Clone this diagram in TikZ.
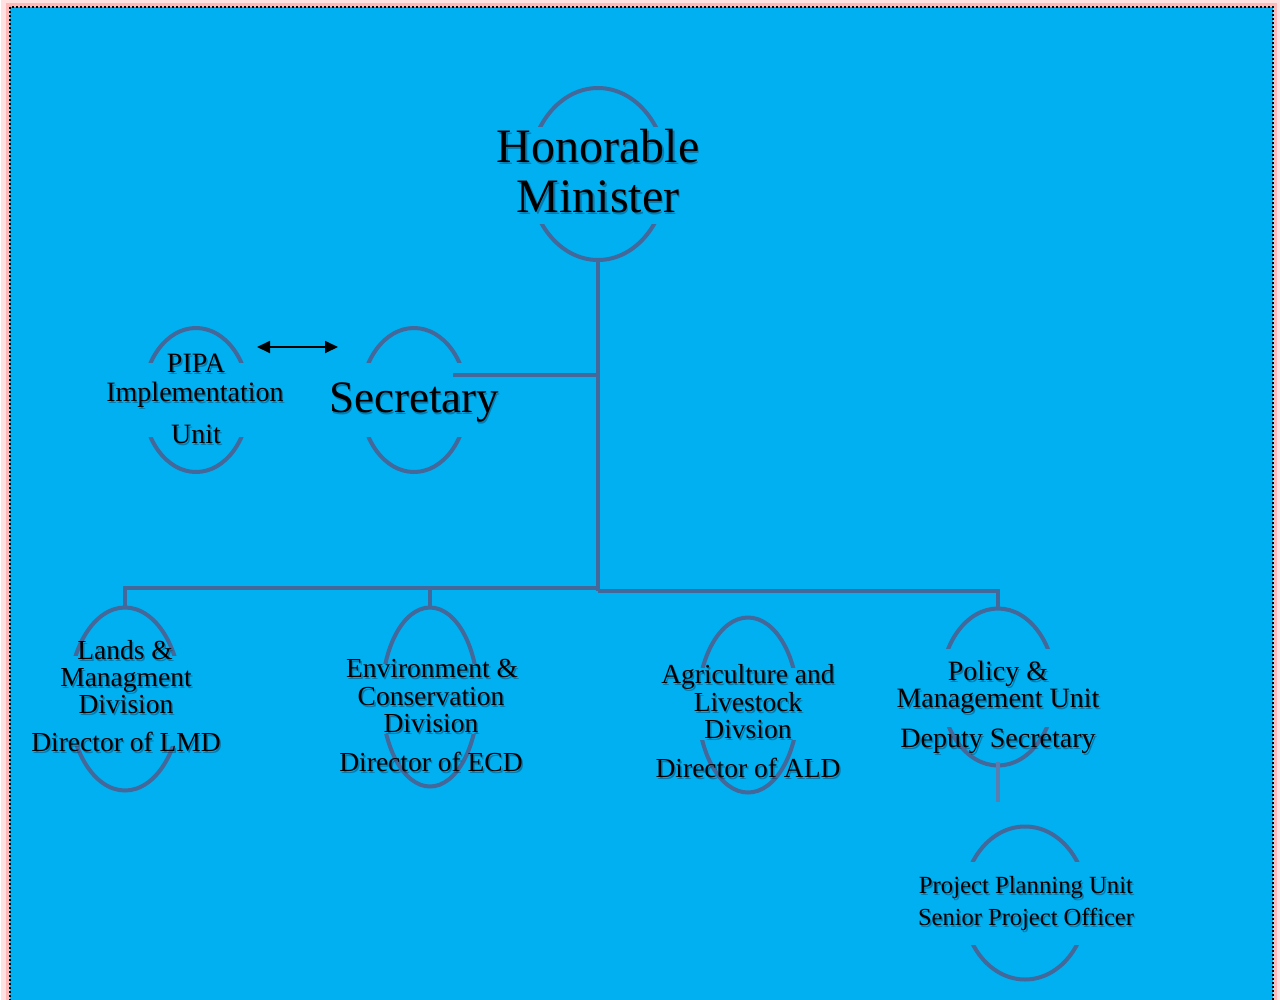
\documentclass[tikz,border=0pt]{standalone}
\usepackage{fontspec}
\setmainfont{Liberation Serif}
\usetikzlibrary{shapes.geometric,arrows.meta}
\definecolor{bgblue}{RGB}{0,176,240}
\definecolor{ringcol}{RGB}{68,104,154}
\definecolor{linkpale}{RGB}{90,125,175}
\definecolor{glowA}{RGB}{255,225,225}
\definecolor{glowB}{RGB}{255,185,185}
\definecolor{shcol}{RGB}{15,45,80}
\tikzset{
  ring/.style={ellipse,draw=ringcol,line width=4pt,inner sep=0pt},
  band/.style={fill=bgblue,draw=none},
  link/.style={draw=ringcol,line width=4pt},
  txt/.style={anchor=base,inner sep=0pt,text=black},
  txtsh/.style={anchor=base,inner sep=0pt,text=shcol,opacity=0.4},
  dblarrow/.style={draw=black,line width=1.8pt,{Triangle[length=13pt,width=12pt]}-{Triangle[length=13pt,width=12pt]}},
}
% name, x, baseline y, font size, text
\newcommand\shtxt[5]{%
  \node[txtsh] (#1s) at (#2+1.5,#3+2.5) {\fontsize{#4}{#4}\selectfont #5};
  \node[txt] (#1) at (#2,#3) {\fontsize{#4}{#4}\selectfont #5};
}
\begin{document}
\begin{tikzpicture}[x=1pt,y=-1pt]
\useasboundingbox (0,0) rectangle (1280,999);
% page background
\fill[white] (0,0) rectangle (1280,999);
\draw[glowA,line width=18pt] (10,7) rectangle (1273,1020);
\draw[glowB,line width=8pt] (10,7) rectangle (1273,1020);
\fill[bgblue] (10,7) rectangle (1273,1020);
\draw[black,line width=2pt,dash pattern=on 2pt off 2pt] (10,7) rectangle (1273,1020);

% ellipses
\node[ring,minimum width=138pt,minimum height=172pt] (min) at (598,174) {};
\node[ring,minimum width=106pt,minimum height=144pt] (sec) at (414,400) {};
\node[ring,minimum width=106pt,minimum height=144pt] (pipa) at (196,400) {};
\node[ring,minimum width=112pt,minimum height=183pt] (lmd) at (125,699) {};
\node[ring,minimum width=96pt,minimum height=179pt] (ecd) at (430,697) {};
\node[ring,minimum width=100pt,minimum height=175pt] (ald) at (748,705) {};
\node[ring,minimum width=114pt,minimum height=157pt] (pol) at (998,687) {};
\node[ring,minimum width=124pt,minimum height=153pt] (ppu) at (1025,903) {};

% bands hidden behind the text boxes
\path[band] (520,127) rectangle (676,224);
\path[band] (355,363) rectangle (473,437);
\path[band] (137,363) rectangle (255,437);
\path[band] (63,656) rectangle (187,746);
\path[band] (376,664) rectangle (484,734);
\path[band] (692,668) rectangle (804,740);
\path[band] (935,649) rectangle (1061,727);
\path[band] (957,862) rectangle (1093,945);

% connectors
\coordinate (secR) at (453,375);
\coordinate (junS) at (598,375);
\coordinate (junB) at (598,591);
\coordinate (lmdT) at (125,588);
\coordinate (ecdT) at (430,588);
\coordinate (polT) at (998,591);
\coordinate (polEnd) at (998,802);
\draw[link] (min.south) -- (junB);
\draw[link] (secR) -- (junS);
\draw[link] (598,588) -- (lmdT) -- (lmd.north);
\draw[link] (ecdT) -- (ecd.north);
\draw[link] (junB) -- (polT) -- (pol.north);
\draw[draw=linkpale,line width=3.5pt] (998,762) -- (polEnd);

% double arrow between PIPA and Secretary
\coordinate (arrL) at (257,347);
\coordinate (arrR) at (338,347);
\draw[dblarrow] (arrL) -- (arrR);

% texts
\shtxt{minA}{598}{162}{48}{Honorable}
\shtxt{minB}{598}{212}{48}{Minister}
\shtxt{secA}{414}{412}{45}{Secretary}
\shtxt{pipaA}{196}{372}{28}{PIPA}
\shtxt{pipaB}{195}{401}{28}{Implementation}
\shtxt{pipaC}{196}{443}{28}{Unit}
\shtxt{lmdA}{125}{659}{27.5}{Lands \&}
\shtxt{lmdB}{126}{686}{27.5}{Managment}
\shtxt{lmdC}{126}{713}{27.5}{Division}
\shtxt{lmdD}{126}{751}{27.5}{Director of LMD}
\shtxt{ecdA}{432}{677}{27.5}{Environment \&}
\shtxt{ecdB}{431}{705}{27.5}{Conservation}
\shtxt{ecdC}{431}{732}{27.5}{Division}
\shtxt{ecdD}{431}{771}{27.5}{Director of ECD}
\shtxt{aldA}{748}{683}{27.5}{Agriculture and}
\shtxt{aldB}{748}{711}{27.5}{Livestock}
\shtxt{aldC}{748}{738}{27.5}{Divsion}
\shtxt{aldD}{748}{777}{27.5}{Director of ALD}
\shtxt{polA}{998}{680}{28}{Policy \&}
\shtxt{polB}{998}{707}{28}{Management Unit}
\shtxt{polC}{998}{747}{28}{Deputy Secretary}
\shtxt{ppuA}{1026}{893}{24.7}{Project Planning Unit}
\shtxt{ppuB}{1026}{925}{24.5}{Senior Project Officer}
\end{tikzpicture}
\end{document}
